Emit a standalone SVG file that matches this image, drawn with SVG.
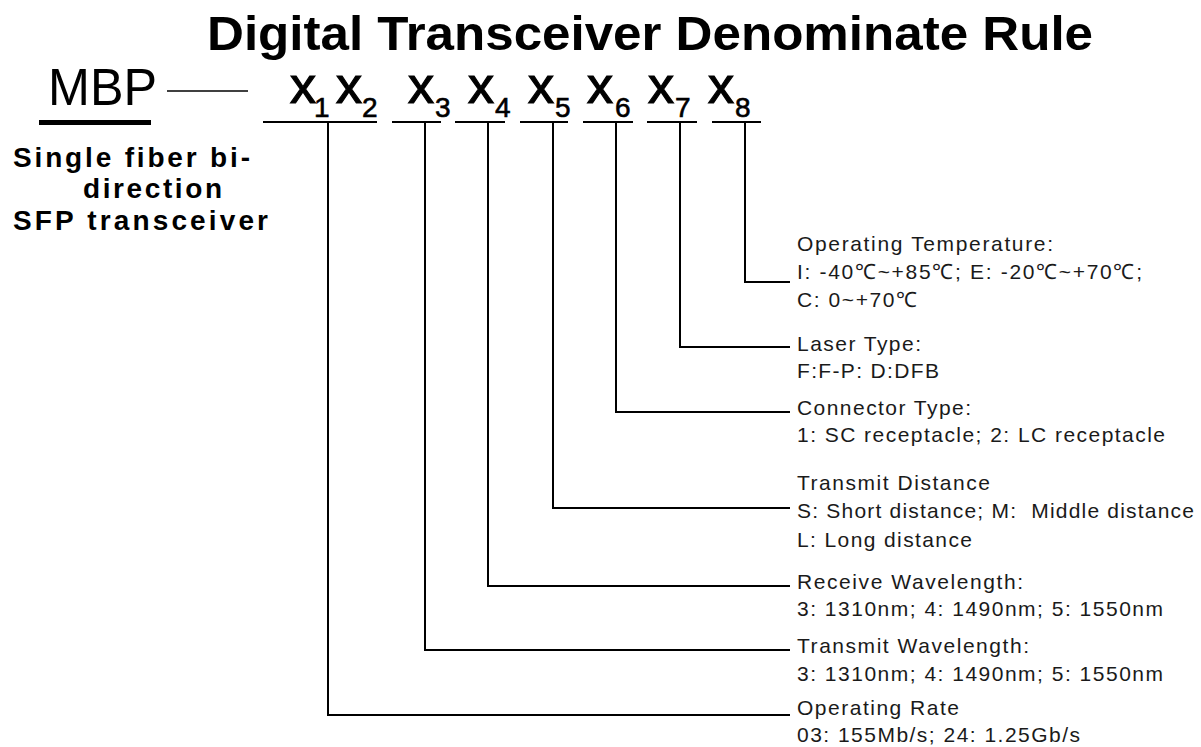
<svg xmlns="http://www.w3.org/2000/svg" width="1201" height="747" viewBox="0 0 1201 747">
<style>
.title{font-family:"Liberation Sans",Arial,sans-serif;font-weight:bold;font-size:49px;fill:#000}
.mbp{font-family:"Liberation Sans",Arial,sans-serif;font-size:52px;fill:#000}
.desc{font-family:"Liberation Sans",Arial,sans-serif;font-weight:bold;font-size:28px;fill:#000}
.x{font-family:"Liberation Sans",Arial,sans-serif;font-size:52px;fill:#000;stroke:#000;stroke-width:1.2}
.sub{font-family:"Liberation Sans",Arial,sans-serif;font-size:28px;fill:#000;stroke:#000;stroke-width:0.6}
.lbl{font-family:"Liberation Sans",Arial,sans-serif;font-size:21px;fill:#1a1a1a}
.ul{stroke:#000;stroke-width:2;fill:none}
.conn{stroke:#000;stroke-width:2;fill:none}
</style>
<rect width="1201" height="747" fill="#fff"/>
<g id="title"><text class="title" x="207" y="50" textLength="886" lengthAdjust="spacingAndGlyphs">Digital Transceiver Denominate Rule</text></g>
<g id="prefix">
<text class="mbp" x="48" y="105" textLength="109" lengthAdjust="spacingAndGlyphs">MBP</text>
<line x1="167" y1="91" x2="248" y2="91" stroke="#000" stroke-width="1.5"/>
<rect x="39" y="120" width="112" height="5" fill="#000"/>
<text class="desc" x="13" y="167" textLength="237">Single fiber bi-</text>
<text class="desc" x="83" y="198" textLength="139">direction</text>
<text class="desc" x="13" y="230" textLength="255">SFP transceiver</text>
</g>
<g id="field-x1x2"><text class="x" x="290" y="103">x</text><text class="sub" x="314" y="117">1</text><text class="x" x="336" y="103">x</text><text class="sub" x="362" y="117">2</text><line class="ul" x1="263" y1="122" x2="377" y2="122"/></g>
<g id="field-x3"><text class="x" x="408" y="103">x</text><text class="sub" x="435" y="117">3</text><line class="ul" x1="392" y1="122" x2="441" y2="122"/></g>
<g id="field-x4"><text class="x" x="468" y="103">x</text><text class="sub" x="495" y="117">4</text><line class="ul" x1="455" y1="122" x2="505" y2="122"/></g>
<g id="field-x5"><text class="x" x="528" y="103">x</text><text class="sub" x="555" y="117">5</text><line class="ul" x1="520" y1="122" x2="568" y2="122"/></g>
<g id="field-x6"><text class="x" x="587" y="103">x</text><text class="sub" x="615" y="117">6</text><line class="ul" x1="583" y1="122" x2="633" y2="122"/></g>
<g id="field-x7"><text class="x" x="648" y="103">x</text><text class="sub" x="675" y="117">7</text><line class="ul" x1="647" y1="122" x2="697" y2="122"/></g>
<g id="field-x8"><text class="x" x="708" y="103">x</text><text class="sub" x="735" y="117">8</text><line class="ul" x1="712" y1="122" x2="761" y2="122"/></g>
<g id="connectors">
<polyline class="conn" points="745,122 745,282 790,282"/>
<polyline class="conn" points="680,122 680,347 790,347"/>
<polyline class="conn" points="616,122 616,412 790,412"/>
<polyline class="conn" points="553,122 553,508 790,508"/>
<polyline class="conn" points="488,122 488,586 790,586"/>
<polyline class="conn" points="425,122 425,650 790,650"/>
<polyline class="conn" points="328,122 328,715 790,715"/>
</g>
<g id="desc-temperature">
<text class="lbl" x="797" y="251" textLength="256">Operating Temperature:</text>
<text class="lbl" x="797" y="279" textLength="345">I: -40℃~+85℃; E: -20℃~+70℃;</text>
<text class="lbl" x="797" y="307" textLength="120">C: 0~+70℃</text>
</g>
<g id="desc-laser">
<text class="lbl" x="797" y="351" textLength="124">Laser Type:</text>
<text class="lbl" x="797" y="378" textLength="142">F:F-P: D:DFB</text>
</g>
<g id="desc-connector">
<text class="lbl" x="797" y="415" textLength="174">Connector Type:</text>
<text class="lbl" x="797" y="442" textLength="368">1: SC receptacle; 2: LC receptacle</text>
</g>
<g id="desc-distance">
<text class="lbl" x="797" y="490" textLength="193">Transmit Distance</text>
<text class="lbl" x="797" y="518" textLength="397" xml:space="preserve">S: Short distance; M:  Middle distance</text>
<text class="lbl" x="797" y="547" textLength="175">L: Long distance</text>
</g>
<g id="desc-receive">
<text class="lbl" x="797" y="589" textLength="226">Receive Wavelength:</text>
<text class="lbl" x="797" y="616" textLength="366">3: 1310nm; 4: 1490nm; 5: 1550nm</text>
</g>
<g id="desc-transmit">
<text class="lbl" x="797" y="653" textLength="232">Transmit Wavelength:</text>
<text class="lbl" x="797" y="681" textLength="366">3: 1310nm; 4: 1490nm; 5: 1550nm</text>
</g>
<g id="desc-rate">
<text class="lbl" x="797" y="715" textLength="162">Operating Rate</text>
<text class="lbl" x="797" y="742" textLength="283">03: 155Mb/s; 24: 1.25Gb/s</text>
</g>
</svg>
